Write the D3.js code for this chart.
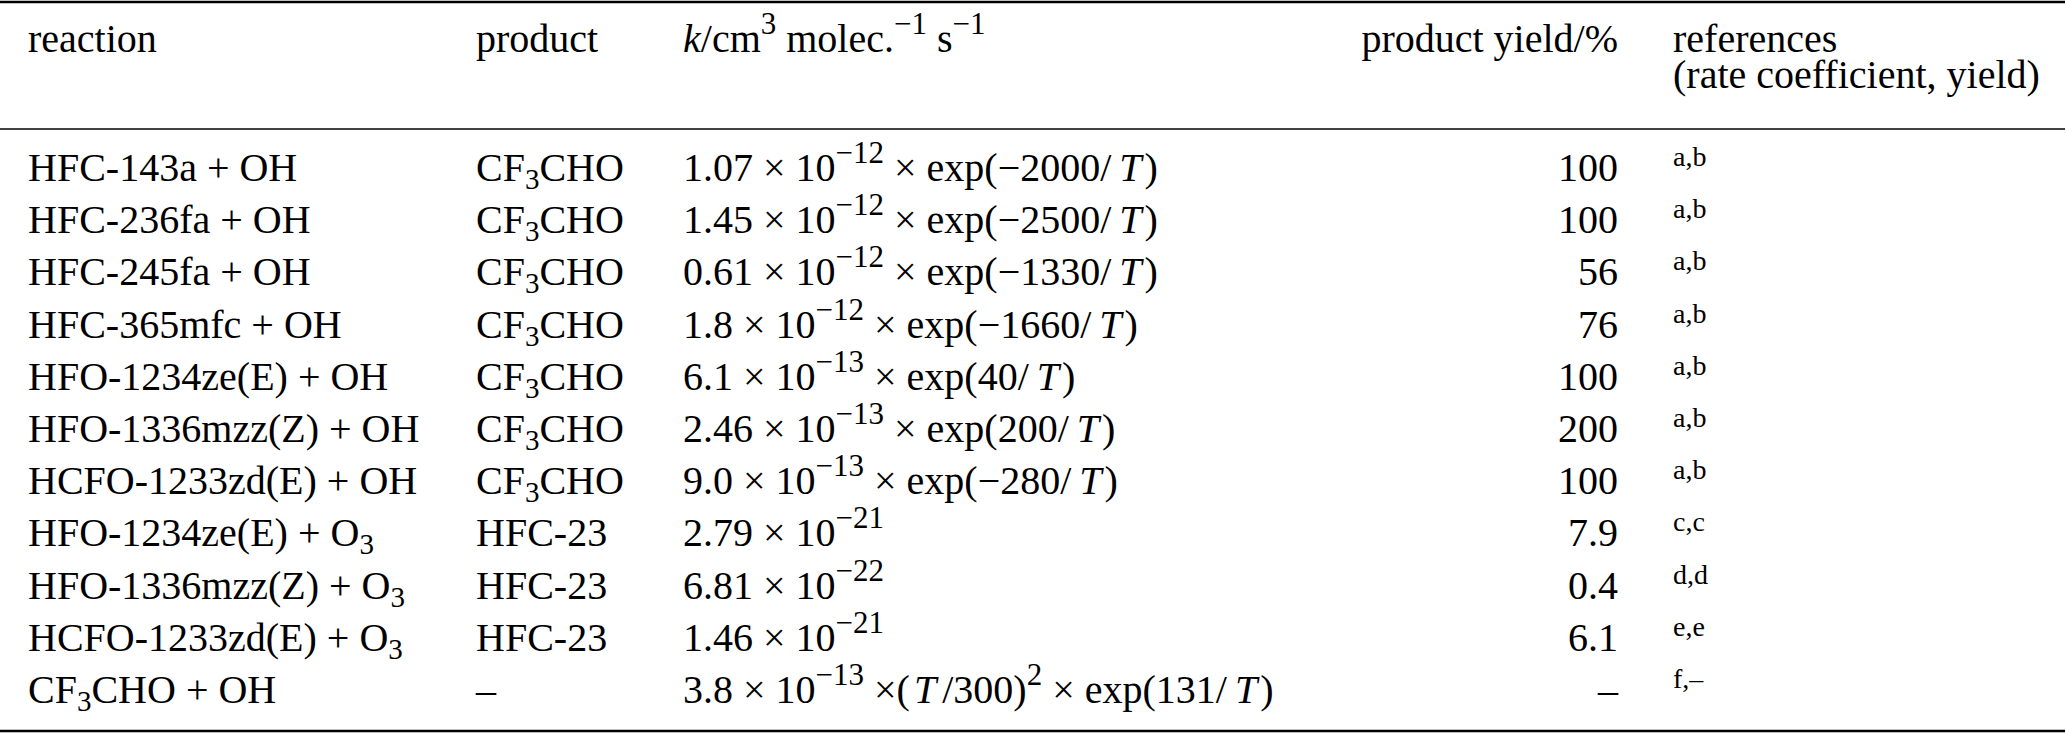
<!DOCTYPE html>
<html>
<head>
<meta charset="utf-8">
<script src="https://cdn.jsdelivr.net/npm/d3@7"></script>
<style>
  html, body { margin: 0; padding: 0; background: #fff; }
  svg text { white-space: pre; }
</style>
</head>
<body>
<svg id="chart"></svg>
<script>
// table contents
var reactants = ["HFC-143a", "HFC-236fa", "HFC-245fa", "HFC-365mfc", "HFO-1234ze(E)",
    "HFO-1336mzz(Z)", "HCFO-1233zd(E)", "HFO-1234ze(E)", "HFO-1336mzz(Z)",
    "HCFO-1233zd(E)", "CF_{3}CHO"];
var oxidants = ["OH", "OH", "OH", "OH", "OH", "OH", "OH", "O_{3}", "O_{3}", "O_{3}", "OH"];
var products = ["CF_{3}CHO", "CF_{3}CHO", "CF_{3}CHO", "CF_{3}CHO", "CF_{3}CHO", "CF_{3}CHO",
    "CF_{3}CHO", "HFC-23", "HFC-23", "HFC-23", "–"];
var kFactors = ["1.07", "1.45", "0.61", "1.8", "6.1", "2.46", "9.0", "2.79", "6.81", "1.46", "3.8"];
var kExponents = [-12, -12, -12, -12, -13, -13, -13, -21, -22, -21, -13];
var kTerms = ["exp(−2000/*T*)", "exp(−2500/*T*)", "exp(−1330/*T*)", "exp(−1660/*T*)",
    "exp(40/*T*)", "exp(200/*T*)", "exp(−280/*T*)", "", "", "",
    "(*T*/300)^{2} × exp(131/*T*)"];
var yields = ["100", "100", "56", "76", "100", "200", "100", "7.9", "0.4", "6.1", "–"];
var refs = ["a,b", "a,b", "a,b", "a,b", "a,b", "a,b", "a,b", "c,c", "d,d", "e,e", "f,–"];

var headers = ["reaction", "product", "*k*/cm^{3} molec.^{−1} s^{−1}", "product yield/%"];
var refHeader = ["references", "(rate coefficient, yield)"];

var width = 2067, height = 733;
var fontSize = 40, supSize = 31, subSize = 29, refSize = 28;

var svg = d3.select("#chart")
    .attr("width", width)
    .attr("height", height)
    .attr("font-family", "'Liberation Serif', 'DejaVu Serif', serif")
    .attr("font-size", fontSize + "px")
    .attr("fill", "#000");

// row baselines
var y = d3.scaleLinear().domain([0, reactants.length - 1]).range([181, 703]);

// column positions
var col = { reaction: 28, product: 476, k: 683, yieldRight: 1618, refs: 1673 };

// write "a_{b}", "a^{b}" and "*italic*" markup into a text element
function rich(text, str) {
    var parts = str.split(/(\^\{[^}]*\}|_\{[^}]*\}|\*[^*]*\*)/).filter(function(s) { return s !== ""; });
    var shift = 0, afterItalic = false;
    parts.forEach(function(p, i) {
        var txt = p, off = 0, size = null, italic = false, dx = 0;
        if (p.indexOf("^{") === 0) { txt = p.slice(2, -1); off = -18; size = supSize; }
        else if (p.indexOf("_{") === 0) { txt = p.slice(2, -1); off = 8; size = subSize; }
        else if (p.charAt(0) === "*") {
            txt = p.slice(1, -1); italic = true;
            if (i > 0) dx = /\/$/.test(parts[i - 1]) ? 8 : 4;
        }
        if (afterItalic) dx += (/^\//.test(txt) ? 6 : 3);
        var ts = text.append("tspan").attr("dy", off - shift).text(txt);
        if (dx) ts.attr("dx", dx);
        if (size) ts.attr("font-size", size + "px");
        if (italic) ts.attr("font-style", "italic");
        shift = off;
        afterItalic = italic && i > 0;
    });
    return text;
}

function cell(x, yy, str, anchor) {
    var t = svg.append("text")
        .attr("x", x)
        .attr("y", yy)
        .attr("text-anchor", anchor || "start");
    return rich(t, str);
}

function expText(e) {
    return (e < 0 ? "−" : "") + Math.abs(e);
}

//rules
svg.append("line").attr("x1", 0).attr("x2", 2065).attr("y1", 2).attr("y2", 2)
    .attr("stroke", "#000").attr("stroke-width", 2.5);
svg.append("line").attr("x1", 0).attr("x2", 2065).attr("y1", 129).attr("y2", 129)
    .attr("stroke", "#000").attr("stroke-width", 1.5);
svg.append("line").attr("x1", 0).attr("x2", 2065).attr("y1", 731).attr("y2", 731)
    .attr("stroke", "#000").attr("stroke-width", 2.5);

//header
cell(col.reaction, 52, headers[0]);
cell(col.product, 52, headers[1]);
cell(col.k, 52, headers[2]);
cell(col.yieldRight, 52, headers[3], "end");
svg.append("text")
    .attr("y", 52)
    .selectAll("tspan")
    .data(refHeader)
    .enter()
    .append("tspan")
    .attr("x", col.refs)
    .attr("dy", function(d, i) { return i ? 36 : 0; })
    .text(function(d) { return d; });

//body rows
reactants.forEach(function(r, i) {
    var yy = y(i);
    cell(col.reaction, yy, r + " + " + oxidants[i]);
    cell(col.product, yy, products[i]);
    var k = kFactors[i] + " × 10^{" + expText(kExponents[i]) + "}";
    if (kTerms[i]) k += " ×" + (kTerms[i].charAt(0) === "(" ? "" : " ") + kTerms[i];
    cell(col.k, yy, k);
    cell(col.yieldRight, yy, yields[i], "end");
    svg.append("text")
        .attr("x", col.refs)
        .attr("y", yy - 15)
        .attr("font-size", refSize + "px")
        .text(refs[i]);
});
</script>
</body>
</html>
